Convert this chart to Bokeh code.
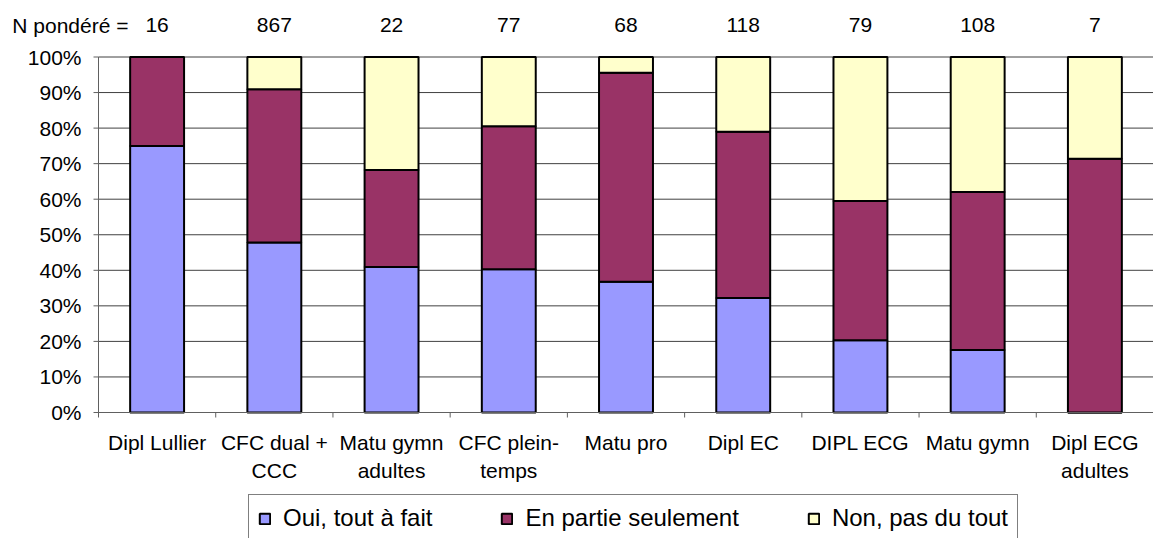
from bokeh.plotting import figure
from bokeh.models import Range1d, Legend, LegendItem, ColumnDataSource
from bokeh.core.properties import value
from bokeh.embed import file_html
from bokeh.resources import INLINE

categories = ["Dipl Lullier", "CFC dual +\nCCC", "Matu gymn\nadultes", "CFC plein-\ntemps",
              "Matu pro", "Dipl EC", "DIPL ECG", "Matu gymn", "Dipl ECG\nadultes"]
n_ponderes = ["16", "867", "22", "77", "68", "118", "79", "108", "7"]
n_title = "N pondéré ="
oui = [75.0, 47.8, 40.9, 40.3, 36.8, 32.2, 20.3, 17.6, 0.0]
partie = [25.0, 43.1, 27.3, 40.2, 58.8, 46.8, 39.2, 44.4, 71.4]
non = [0.0, 9.1, 31.8, 19.5, 4.4, 21.0, 40.5, 38.0, 28.6]
series_names = ["Oui, tout à fait", "En partie seulement", "Non, pas du tout"]
series_colors = ["#9999FF", "#993366", "#FFFFCC"]
y_ticks = [0, 10, 20, 30, 40, 50, 60, 70, 80, 90, 100]

# ---- layout constants (pixels) ----
FONT = "Liberation Sans"
FS = "21px"
W, H = 1153, 538
PLOT_LEFT = 98          # x pixel of the value axis
PLOT_TOP = 56.5         # y pixel of 100 %
PLOT_BOTTOM = 412       # y pixel of 0 %
TICK = 5
n = len(categories)
px_per_x = (W - PLOT_LEFT) / n
px_per_y = (PLOT_BOTTOM - PLOT_TOP) / 100.0
x_start = -PLOT_LEFT / px_per_x
y_end = 100 + PLOT_TOP / px_per_y
y_start = -(H - PLOT_BOTTOM) / px_per_y
N_ROW_Y = 100 + (PLOT_TOP - 24.5) / px_per_y
N_TITLE_X = (128 - PLOT_LEFT) / px_per_x
CAT_LABEL_Y = -(430 - PLOT_BOTTOM) / px_per_y
tick_dx = TICK / px_per_x
tick_dy = TICK / px_per_y

xs = [i + 0.5 for i in range(n)]
bounds = list(range(n + 1))
src = ColumnDataSource(dict(x=xs, oui=oui, partie=partie, non=non))

p = figure(frame_width=W, frame_height=H, output_backend="svg",
           toolbar_location=None,
           x_range=Range1d(x_start, n), y_range=Range1d(y_start, y_end),
           min_border=0, x_axis_location=None, y_axis_location=None)
p.outline_line_color = None
p.background_fill_color = "white"
p.grid.visible = False

AX = "#606060"
# horizontal gridlines
p.segment(x0=0, x1=n, y0=y_ticks, y1=y_ticks, line_color="#000000",
          line_alpha=0.75, line_width=1)

rs = p.vbar_stack(["oui", "partie", "non"], x="x", width=0.46, source=src,
                  fill_color=series_colors, line_color="black", line_width=2)

# value axis (at x = 0)
p.segment(x0=0, x1=0, y0=y_ticks[0], y1=y_ticks[-1], line_color=AX, line_width=1)
p.segment(x0=-tick_dx, x1=0, y0=y_ticks, y1=y_ticks, line_color=AX, line_width=1)
p.text(x=[0] * len(y_ticks), y=y_ticks, text=[f"{t}%" for t in y_ticks],
       x_offset=-17, text_align="right", text_baseline="middle",
       text_font=value(FONT), text_font_size=FS, text_color="black")

# category axis (at y = 0): ticks at boundaries, labels at centers
p.segment(x0=0, x1=n, y0=0, y1=0, line_color=AX, line_width=1)
p.segment(x0=bounds, x1=bounds, y0=0, y1=-tick_dy, line_color=AX, line_width=1)
p.text(x=xs, y=[CAT_LABEL_Y] * n, text=categories, text_align="center",
       text_baseline="top", text_line_height=1.25,
       text_font=value(FONT), text_font_size=FS, text_color="black")

# N row
p.text(x=xs, y=[N_ROW_Y] * n, text=n_ponderes, text_align="center",
       text_baseline="middle", text_font=value(FONT), text_font_size=FS,
       text_color="black")
p.text(x=[N_TITLE_X], y=[N_ROW_Y], text=[n_title], text_align="right",
       text_baseline="middle", text_font=value(FONT), text_font_size=FS,
       text_color="black")

legend = Legend(items=[LegendItem(label=nm, renderers=[r]) for nm, r in zip(series_names, rs)],
                orientation="horizontal", location=(248, -4))
legend.label_text_font = FONT
legend.label_text_font_size = "24px"
legend.label_text_color = "black"
legend.glyph_width = 13
legend.glyph_height = 13
legend.label_standoff = 12
legend.spacing = 68
legend.padding = 9
legend.margin = 0
legend.border_line_color = "#000000"
legend.border_line_width = 1
legend.background_fill_alpha = 1
p.add_layout(legend)

open("out.html", "w").write(file_html(p, INLINE))
